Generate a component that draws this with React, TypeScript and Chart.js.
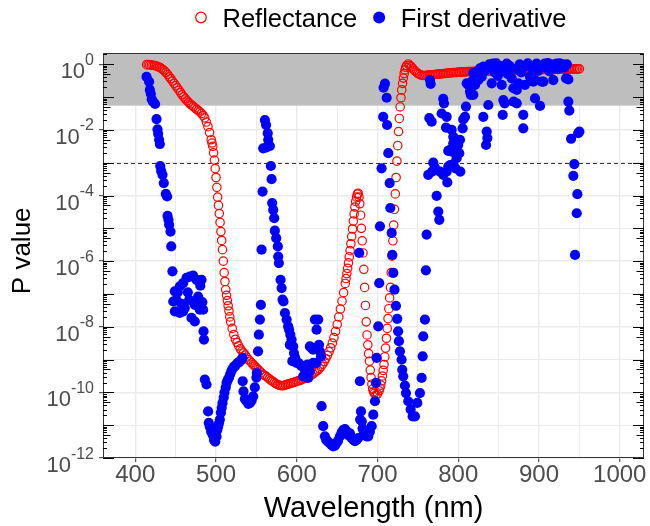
import React, { useEffect, useRef } from "react";
import { Chart, registerables } from "chart.js";

Chart.register(...registerables);

const FONT = "'Liberation Sans', Arial, Helvetica, sans-serif";

// ---- axis settings / ticks ----
const xMin = 360;
const xMax = 1030;
const yMin = 1e-12;
const yMax = 2.21;
const xGridValues = [400, 450, 500, 550, 600, 650, 700, 750, 800, 850, 900, 950, 1000];
const xLabelValues = [400, 500, 600, 700, 800, 900, 1000];
const yGridExponents = [0, -1, -2, -3, -4, -5, -6, -7, -8, -9, -10, -11, -12];
const yLabelExponents = [0, -2, -4, -6, -8, -10, -12];
const shadeFrom = 0.055;
const dashedAt = 0.001;

const legendLabels = ["Reflectance", "First derivative"];

// ---- Reflectance (red open circles): [wavelength (nm), log10(P)] ----
const reflectancePoints: [number, number][] = [
  [414, -0.01], [416, -0.01], [418, -0.02], [420, -0.02], [422, -0.03], [424, -0.04], [426, -0.05], [428, -0.07],
  [430, -0.09], [432, -0.12], [434, -0.16], [436, -0.2], [438, -0.25], [440, -0.31], [442, -0.38], [444, -0.44],
  [446, -0.51], [448, -0.58], [450, -0.65], [452, -0.72], [454, -0.79], [456, -0.86], [458, -0.93], [460, -0.99],
  [462, -1.05], [464, -1.11], [466, -1.16], [468, -1.21], [470, -1.25], [472, -1.29], [474, -1.33], [476, -1.37],
  [478, -1.41], [480, -1.45], [482, -1.5], [484, -1.56], [486, -1.63], [488, -1.76], [490, -1.9], [492, -2.08],
  [494, -2.3], [495, -2.4], [496, -2.5], [497, -2.7], [498, -2.92], [499, -3.18], [500, -3.45], [501, -3.75],
  [502, -4.05], [503, -4.3], [504, -4.55], [505, -4.82], [506, -5.1], [507, -5.37], [508, -5.65], [509, -6.0],
  [510, -6.35], [511, -6.62], [512, -6.87], [513, -7.04], [514, -7.2], [515, -7.36], [516, -7.52], [517, -7.7],
  [518, -7.85], [520, -8.05], [522, -8.24], [524, -8.38], [526, -8.48], [528, -8.58], [530, -8.67], [532, -8.74],
  [534, -8.8], [536, -8.86], [538, -8.93], [540, -9.0], [542, -9.05], [544, -9.1], [546, -9.15], [548, -9.2],
  [550, -9.25], [552, -9.3], [554, -9.35], [556, -9.4], [558, -9.45], [560, -9.48], [562, -9.51], [564, -9.55],
  [566, -9.59], [568, -9.63], [570, -9.66], [572, -9.7], [574, -9.73], [576, -9.76], [578, -9.78], [580, -9.79],
  [582, -9.8], [584, -9.79], [586, -9.77], [588, -9.76], [590, -9.74], [592, -9.73], [594, -9.71], [596, -9.7],
  [598, -9.68], [600, -9.66], [602, -9.65], [604, -9.63], [606, -9.61], [608, -9.59], [610, -9.57], [612, -9.55],
  [614, -9.52], [616, -9.49], [618, -9.47], [620, -9.44], [622, -9.4], [624, -9.36], [626, -9.32], [628, -9.27],
  [630, -9.21], [632, -9.14], [634, -9.06], [636, -8.97], [638, -8.87], [640, -8.76], [642, -8.64], [644, -8.5],
  [646, -8.33], [648, -8.14], [650, -7.93], [652, -7.7], [654, -7.46], [656, -7.22], [658, -6.96], [660, -6.68],
  [661, -6.53], [662, -6.38], [663, -6.22], [664, -6.05], [665, -5.87], [666, -5.68], [667, -5.47], [668, -5.25],
  [669, -5.02], [670, -4.78], [671, -4.56], [672, -4.35], [673, -4.18], [674, -4.05], [675, -3.96], [676, -3.93],
  [677, -4.05], [678, -4.25], [679, -4.6], [680, -5.0], [681, -5.38], [682, -5.75], [683, -6.25], [684, -6.8],
  [685, -7.35], [686, -7.85], [687, -8.25], [688, -8.55], [689, -8.82], [690, -9.05], [691, -9.32], [692, -9.55],
  [693, -9.75], [694, -9.9], [695, -9.98], [696, -10.03], [698, -10.08], [700, -10.05], [702, -9.95], [703, -9.87],
  [704, -9.78], [705, -9.65], [706, -9.5], [707, -9.33], [708, -9.15], [709, -8.92], [710, -8.65], [711, -8.35],
  [712, -8.05], [713, -7.75], [714, -7.45], [715, -7.12], [716, -6.8], [717, -6.35], [718, -5.85], [719, -5.38],
  [720, -4.9], [721, -4.42], [722, -3.95], [723, -3.45], [724, -2.95], [725, -2.48], [726, -2.05], [727, -1.65],
  [728, -1.3], [729, -1.02], [730, -0.78], [731, -0.58], [732, -0.42], [733, -0.28], [734, -0.17], [735, -0.09],
  [736, -0.04], [738, 0.01], [740, -0.03], [742, -0.08], [744, -0.14], [746, -0.19], [748, -0.24], [750, -0.28],
  [752, -0.31], [754, -0.33], [756, -0.34], [758, -0.34], [760, -0.34], [762, -0.33], [764, -0.33], [766, -0.32],
  [768, -0.32], [770, -0.31], [772, -0.31], [774, -0.3], [776, -0.3], [778, -0.29], [780, -0.29], [782, -0.28],
  [784, -0.28], [786, -0.27], [788, -0.27], [790, -0.26], [792, -0.26], [794, -0.25], [796, -0.25], [798, -0.25],
  [800, -0.24], [802, -0.24], [804, -0.24], [806, -0.23], [808, -0.23], [810, -0.23], [812, -0.22], [814, -0.22],
  [816, -0.22], [818, -0.22], [820, -0.21], [822, -0.21], [824, -0.21], [826, -0.21], [828, -0.21], [830, -0.21],
  [832, -0.2], [834, -0.2], [836, -0.2], [838, -0.2], [840, -0.2], [842, -0.2], [844, -0.2], [846, -0.2],
  [848, -0.2], [850, -0.2], [852, -0.19], [854, -0.19], [856, -0.19], [858, -0.19], [860, -0.19], [862, -0.19],
  [864, -0.18], [866, -0.18], [868, -0.18], [870, -0.18], [872, -0.18], [874, -0.18], [876, -0.18], [878, -0.18],
  [880, -0.17], [882, -0.17], [884, -0.17], [886, -0.17], [888, -0.17], [890, -0.17], [892, -0.17], [894, -0.17],
  [896, -0.17], [898, -0.17], [900, -0.16], [902, -0.16], [904, -0.16], [906, -0.16], [908, -0.16], [910, -0.16],
  [912, -0.16], [914, -0.16], [916, -0.16], [918, -0.16], [920, -0.16], [922, -0.15], [924, -0.15], [926, -0.15],
  [928, -0.15], [930, -0.15], [932, -0.15], [934, -0.15], [936, -0.15], [938, -0.15], [940, -0.14], [942, -0.14],
  [944, -0.14], [946, -0.14], [948, -0.14], [950, -0.14],
];

// ---- First derivative (blue filled): [wavelength (nm), log10(P)] ----
const derivativePoints: [number, number][] = [
  [413.9, -0.38], [417.1, -0.53], [418.0, -0.78], [419.2, -0.9], [420.4, -1.07], [422.0, -1.14], [424.5, -1.21],
  [426.3, -1.67], [427.5, -1.98], [428.3, -2.12], [429.5, -2.3], [430.4, -2.43], [430.9, -3.1], [432.0, -3.25],
  [433.7, -3.37], [435.3, -3.62], [437.8, -3.95], [439.4, -4.03], [439.9, -4.62], [441.1, -4.74], [441.9, -4.89],
  [443.6, -5.1], [444.5, -5.55], [446.0, -6.31],
  [447.0, -7.23], [448.9, -6.92], [449.0, -7.53], [451.0, -7.18], [452.5, -6.95], [455.1, -6.77], [455.1, -7.58],
  [457.0, -7.3], [459.2, -6.67], [459.2, -7.53], [461.3, -7.43], [463.4, -6.51], [465.0, -6.95], [466.7, -7.18],
  [467.5, -6.47], [469.6, -7.73], [471.6, -6.44], [473.7, -7.33], [473.7, -7.84], [475.8, -6.57], [477.8, -7.08],
  [479.9, -7.48], [480.5, -6.75], [482.0, -6.57], [483.0, -7.25], [484.0, -7.48], [484.5, -8.14], [485.0, -8.39],
  [486.1, -9.61], [488.2, -9.76], [490.2, -10.58], [491.0, -10.93], [492.3, -11.05], [494.0, -11.2], [496.0, -11.3],
  [497.5, -11.45], [499.0, -11.5], [500.6, -11.35], [501.5, -11.15], [502.5, -11.05], [503.5, -10.95], [504.7, -10.83],
  [506.0, -10.62], [507.0, -10.47], [508.0, -10.32], [509.5, -10.15], [510.5, -10.0], [512.0, -9.85], [513.0, -9.71],
  [514.5, -9.62], [516.0, -9.55], [517.5, -9.45], [519.0, -9.35], [520.5, -9.28], [522.0, -9.22], [523.5, -9.2],
  [525.0, -9.15], [527.0, -9.1], [529.0, -9.07], [531.0, -9.02], [532.8, -8.95], [533.0, -9.66], [534.0, -9.97],
  [535.7, -10.2], [537.8, -10.27], [540.0, -10.35], [542.0, -10.32], [544.0, -10.25], [546.0, -10.12], [548.0, -9.85],
  [550.0, -9.55], [550.5, -9.41], [552.0, -8.75], [553.0, -8.24], [554.3, -7.78], [555.5, -7.33], [556.4, -5.65],
  [557.6, -3.88], [558.4, -2.56], [560.5, -1.7], [562.0, -1.85], [562.6, -2.53], [564.0, -2.1], [564.6, -2.3],
  [566.7, -2.49], [567.9, -3.1], [568.8, -3.5], [569.5, -4.23], [570.8, -4.44], [572.0, -4.69], [572.8, -5.07],
  [574.5, -5.3], [576.5, -5.55], [577.0, -5.86], [577.8, -6.06], [579.9, -6.57], [581.2, -6.82], [582.4, -7.17],
  [583.5, -7.23], [585.3, -7.58], [587.4, -7.78], [589.3, -7.99], [590.5, -8.09], [591.4, -8.55], [592.0, -8.24],
  [593.5, -8.39], [594.5, -9.05], [595.5, -8.6], [596.5, -8.8], [598.0, -8.95], [599.7, -9.1], [601.7, -9.1],
  [604.0, -9.15], [605.9, -9.2], [607.9, -9.51], [610.0, -9.3], [612.0, -9.41], [613.0, -9.15], [614.1, -9.56],
  [616.2, -9.36], [616.2, -8.6], [618.3, -8.65], [620.3, -9.1], [620.3, -8.7], [622.4, -7.78], [622.4, -8.65],
  [624.5, -8.09], [624.5, -8.65], [624.5, -9.1], [626.5, -7.78], [627.5, -8.55], [628.6, -8.75], [630.0, -8.9],
  [630.7, -10.42], [632.7, -11.03], [634.8, -11.34], [636.5, -11.45], [638.5, -11.5], [641.0, -11.55], [643.0, -11.6],
  [645.0, -11.65], [647.2, -11.62], [649.0, -11.55], [651.0, -11.48], [653.4, -11.34], [655.5, -11.22], [657.5, -11.15],
  [659.6, -11.12], [661.5, -11.18], [663.7, -11.3], [665.8, -11.25], [667.5, -11.38], [669.9, -11.44], [672.0, -11.49],
  [674.1, -11.45], [676.1, -11.39], [677.3, -5.75], [678.2, -9.66], [678.5, -10.83], [679.5, -10.58], [680.5, -10.88],
  [681.5, -11.1], [683.0, -11.2], [684.4, -11.23], [686.5, -11.34], [688.5, -11.34], [690.5, -11.2], [692.7, -11.03],
  [694.7, -10.68], [696.8, -10.27], [698.0, -9.71], [698.9, -8.95], [700.9, -7.99], [702.1, -6.67], [703.0, -4.94],
  [705.0, -3.17], [707.0, -1.6], [707.5, -0.71], [709.2, -0.59], [711.3, -1.02], [711.8, -1.85], [713.3, -2.71],
  [715.0, -3.62], [715.8, -4.38], [717.5, -5.14], [718.3, -5.81], [719.5, -6.36], [721.0, -6.87], [722.8, -7.36],
  [724.4, -7.76], [725.5, -8.14], [726.5, -8.44], [727.7, -8.75], [729.8, -9.0], [730.6, -9.31], [731.8, -9.51],
  [733.9, -9.79], [735.2, -10.02], [738.0, -10.27], [741.0, -10.52], [743.5, -10.73], [746.3, -10.73], [749.2, -10.32],
  [752.5, -10.02], [754.6, -9.56], [755.9, -8.9], [756.6, -8.29], [758.7, -7.78], [759.9, -6.28], [760.8, -5.19],
  [762.8, -3.37], [764.1, -1.64], [765.0, -0.48], [765.8, -0.6], [767.0, -1.75], [767.5, -3.27], [769.0, -3.0],
  [771.0, -3.15], [773.2, -4.01], [775.2, -4.49], [776.5, -4.74], [777.3, -3.27], [779.4, -1.5], [781.4, -1.05],
  [781.4, -3.37], [782.3, -1.19], [784.8, -1.93], [785.6, -1.6], [785.6, -3.27], [786.4, -3.6], [787.6, -3.12],
  [787.6, -2.64], [789.7, -2.61], [790.0, -3.07], [791.8, -2.0], [791.8, -2.66], [793.8, -2.21], [793.8, -2.41],
  [793.8, -3.04], [795.9, -2.61], [796.5, -3.17], [797.9, -2.76], [798.0, -2.36], [798.0, -2.86], [799.9, -2.46],
  [801.2, -2.71], [802.1, -2.3], [802.5, -3.27], [805.4, -1.95], [806.2, -1.68], [808.3, -1.6], [809.5, -1.29],
  [810.4, -0.58], [812.4, -0.63], [814.5, -0.83], [815.5, -0.93], [816.6, -0.53], [818.6, -0.93], [818.6, -0.27],
  [820.7, -0.63], [822.8, -0.33], [823.5, -0.22], [824.8, -0.48], [826.9, -0.12], [829.0, -0.38], [831.0, -0.07],
  [831.0, -1.6], [833.0, -0.2], [834.4, -2.46], [835.2, -2.05], [836.0, -2.25], [837.2, -1.24], [838.5, 0.0],
  [839.0, -0.1], [841.4, -0.58], [843.0, 0.02], [845.0, -0.25], [847.0, 0.03], [849.0, -0.35], [851.0, -0.05],
  [853.8, -0.63], [854.5, -0.2], [855.0, -1.54], [855.8, -1.09], [857.5, -1.19], [858.5, -0.1], [860.0, 0.02],
  [861.5, -0.3], [863.5, -0.05], [866.2, -0.43], [868.2, -0.73], [868.5, -1.14], [870.0, -0.15], [872.4, -0.78],
  [872.4, -1.19], [874.4, -0.58], [876.0, 0.0], [878.0, -0.25], [880.5, -1.54], [880.5, -1.95], [882.6, -0.63],
  [884.0, -0.05], [886.0, 0.03], [888.8, -0.38], [890.5, -0.12], [892.9, -0.53], [895.0, -1.04], [895.0, -0.48],
  [897.0, 0.02], [899.0, -0.2], [901.2, -1.27], [903.4, -0.53], [905.4, -0.53], [907.0, 0.02], [909.0, -0.1],
  [911.0, 0.04], [913.0, -0.22], [915.0, 0.0], [917.7, -0.48], [919.5, -0.05], [921.5, 0.02], [923.5, -0.15],
  [925.5, 0.03], [927.5, -0.08], [929.5, 0.0], [931.5, -0.1], [933.5, -0.43], [934.5, 0.0], [936.3, -0.46],
  [936.3, -1.14], [937.5, -1.41], [939.7, -2.27], [942.5, -3.4], [943.7, -3.04], [944.6, -5.81], [946.7, -4.54],
  [947.5, -3.96], [948.5, -2.1], [950.0, -2.05],
];

const RED = "#FF0000";
const BLUE = "#0000FF";

const decorPlugin = {
  id: "decor",
  beforeDatasetsDraw(chart: any) {
    const { ctx, chartArea } = chart;
    const ys = chart.scales.y;
    const { left, right, top } = chartArea;
    ctx.save();
    const yShade = ys.getPixelForValue(shadeFrom);
    ctx.fillStyle = "#BEBEBE";
    ctx.fillRect(left, top, right - left, yShade - top);
    const yd = Math.round(ys.getPixelForValue(dashedAt)) + 0.5;
    ctx.strokeStyle = "#333333";
    ctx.lineWidth = 1;
    ctx.setLineDash([4, 3]);
    ctx.beginPath();
    ctx.moveTo(left, yd);
    ctx.lineTo(right, yd);
    ctx.stroke();
    ctx.setLineDash([]);
    ctx.restore();
  },
  afterDatasetsDraw(chart: any) {
    const { ctx, chartArea } = chart;
    const ys = chart.scales.y;
    const { left, right, top, bottom } = chartArea;
    ctx.save();
    ctx.strokeStyle = "#333333";
    ctx.lineWidth = 1;
    ctx.strokeRect(left + 0.5, top + 0.5, right - left - 1, bottom - top - 1);
    ctx.strokeStyle = "#000000";
    ctx.beginPath();
    for (const e of yGridExponents) {
      for (let m = 1; m <= 9; m++) {
        const v = m * Math.pow(10, e);
        if (v < yMin || v > yMax) continue;
        const y = Math.round(ys.getPixelForValue(v)) + 0.5;
        const len = m === 1 ? 11 : m === 5 ? 7.5 : 4;
        ctx.moveTo(left, y);
        ctx.lineTo(left + len, y);
        ctx.moveTo(right, y);
        ctx.lineTo(right - len, y);
      }
    }
    ctx.stroke();
    ctx.restore();
  },
  afterDraw(chart: any) {
    const { ctx } = chart;
    const ys = chart.scales.y;
    ctx.save();
    ctx.fillStyle = "#4D4D4D";
    ctx.textAlign = "right";
    ctx.textBaseline = "alphabetic";
    const labelRight = 94;
    for (const e of yLabelExponents) {
      const y = ys.getPixelForValue(Math.pow(10, e));
      const sup = e === 0 ? "0" : "-" + Math.abs(e);
      ctx.font = `16px ${FONT}`;
      const sw = ctx.measureText(sup).width;
      ctx.fillText(sup, labelRight, y + 0.5);
      ctx.font = `22px ${FONT}`;
      ctx.fillText("10", labelRight - sw, y + 14);
    }
    ctx.save();
    ctx.translate(22.5, 250.8);
    ctx.rotate(-Math.PI / 2);
    ctx.fillStyle = "#000000";
    ctx.font = `26px ${FONT}`;
    ctx.textAlign = "center";
    ctx.textBaseline = "middle";
    ctx.fillText("P value", 0, 0);
    ctx.restore();
    // legend
    ctx.font = `25.5px ${FONT}`;
    ctx.textAlign = "left";
    ctx.textBaseline = "alphabetic";
    ctx.fillStyle = "#000000";
    const cy = 17.5;
    const base = 27;
    let cx = 201;
    ctx.strokeStyle = RED;
    ctx.lineWidth = 1.2;
    ctx.beginPath();
    ctx.arc(cx, cy, 5.3, 0, Math.PI * 2);
    ctx.stroke();
    let tx = cx + 21.5;
    ctx.fillText(legendLabels[0], tx, base);
    cx = tx + ctx.measureText(legendLabels[0]).width + 22;
    ctx.fillStyle = BLUE;
    ctx.beginPath();
    ctx.arc(cx, cy, 6, 0, Math.PI * 2);
    ctx.fill();
    ctx.fillStyle = "#000000";
    tx = cx + 21.5;
    ctx.fillText(legendLabels[1], tx, base);
    ctx.restore();
  },
};

export default function App() {
  const canvasRef = useRef<HTMLCanvasElement | null>(null);

  useEffect(() => {
    const canvas = canvasRef.current;
    if (!canvas) return;
    const redData = reflectancePoints.map(([w, v]) => ({ x: w, y: Math.pow(10, v) }));
    const blueData = derivativePoints.map(([w, v]) => ({ x: w, y: Math.pow(10, v) }));

    const chart = new Chart(canvas, {
      type: "scatter",
      data: {
        datasets: [
          {
            label: legendLabels[0],
            data: redData,
            pointStyle: "circle",
            pointRadius: 4.2,
            pointBorderWidth: 1.2,
            borderColor: RED,
            backgroundColor: "rgba(255,255,255,0)",
            order: 2,
          },
          {
            label: legendLabels[1],
            data: blueData,
            pointStyle: "circle",
            pointRadius: 5.1,
            pointBorderWidth: 0,
            borderColor: BLUE,
            backgroundColor: BLUE,
            order: 1,
          },
        ],
      },
      options: {
        responsive: false,
        animation: false,
        devicePixelRatio: 1,
        events: [],
        layout: { padding: { top: 53, right: 6, left: 0, bottom: 0 } },
        plugins: { legend: { display: false }, tooltip: { enabled: false } },
        scales: {
          x: {
            type: "linear",
            position: "bottom",
            min: xMin,
            max: xMax,
            afterBuildTicks: (s: any) => {
              s.ticks = xGridValues.map((v) => ({ value: v }));
            },
            afterFit: (s: any) => {
              s.height = 68;
            },
            border: { display: false },
            grid: {
              color: "#EBEBEB",
              lineWidth: (c: any) => (c.tick && xLabelValues.includes(c.tick.value) ? 1.4 : 1),
              drawTicks: true,
              tickLength: 4,
              tickWidth: 1,
              tickColor: (c: any) =>
                c.tick && xLabelValues.includes(c.tick.value) ? "#333333" : "rgba(0,0,0,0)",
            },
            ticks: {
              autoSkip: false,
              maxRotation: 0,
              padding: 0,
              color: "#4D4D4D",
              font: { family: FONT, size: 24, lineHeight: 1.1 },
              callback: (v: any) => (xLabelValues.includes(Number(v)) ? String(v) : ""),
            },
            title: {
              display: true,
              text: "Wavelength (nm)",
              color: "#000000",
              font: { family: FONT, size: 29 },
              padding: { top: 11, bottom: 0 },
            },
          },
          y: {
            type: "logarithmic",
            min: yMin,
            max: yMax,
            afterBuildTicks: (s: any) => {
              s.ticks = yGridExponents.map((e) => ({ value: Math.pow(10, e) }));
            },
            afterFit: (s: any) => {
              s.width = 103;
            },
            border: { display: false },
            grid: {
              color: "#EBEBEB",
              lineWidth: (c: any) => {
                const e = c.tick ? Math.round(Math.log10(c.tick.value)) : 1;
                return e % 2 === 0 ? 1.4 : 1;
              },
              drawTicks: true,
              tickLength: 4,
              tickWidth: 1,
              tickColor: (c: any) => {
                const e = c.tick ? Math.round(Math.log10(c.tick.value)) : 1;
                return e % 2 === 0 ? "#333333" : "rgba(0,0,0,0)";
              },
            },
            ticks: { display: false },
          },
        },
      },
      plugins: [decorPlugin],
    } as any);

    return () => chart.destroy();
  }, []);

  return (
    <div style={{ position: "absolute", left: 0, top: 0, width: 650, height: 526, background: "#ffffff" }}>
      <canvas ref={canvasRef} width={650} height={526} style={{ display: "block", width: 650, height: 526 }} />
    </div>
  );
}
